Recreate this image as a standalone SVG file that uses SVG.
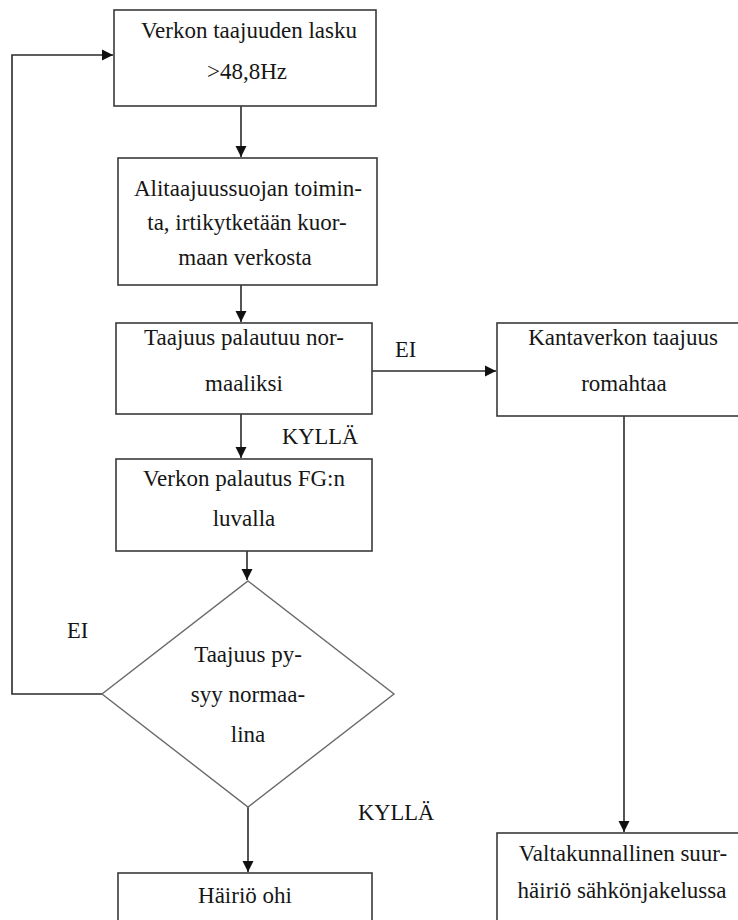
<svg xmlns="http://www.w3.org/2000/svg" width="738" height="920" viewBox="0 0 738 920">
  <style>
    .box { fill: #ffffff; stroke: #3a3a3a; stroke-width: 1.6; }
    .dia { fill: #ffffff; stroke: #6a6a6a; stroke-width: 1.4; }
    .lbl { font-family: "Liberation Serif", "Times New Roman", serif; font-size: 23px; fill: #161616; text-anchor: middle; }
    .edge { fill: none; stroke: #2a2a2a; stroke-width: 1.6; }
    .tag { font-family: "Liberation Serif", "Times New Roman", serif; font-size: 22.5px; fill: #161616; }
  </style>
  <defs>
    <marker id="arrow" markerWidth="12" markerHeight="12" refX="11" refY="6" orient="auto" markerUnits="userSpaceOnUse">
      <path d="M0,0.5 L11,6 L0,11.5 Z" fill="#111111"/>
    </marker>
  </defs>
  <rect width="738" height="920" fill="#ffffff"/>

  <!-- flow connectors and their branch labels -->
  <g id="connectors">
    <line class="edge" x1="241" y1="106" x2="241" y2="157" marker-end="url(#arrow)"/>
    <line class="edge" x1="241" y1="285" x2="241" y2="322" marker-end="url(#arrow)"/>
    <line class="edge" x1="241" y1="414" x2="241" y2="458" marker-end="url(#arrow)"/>
    <line class="edge" x1="247" y1="551" x2="247" y2="580" marker-end="url(#arrow)"/>
    <line class="edge" x1="248" y1="807" x2="248" y2="872" marker-end="url(#arrow)"/>
    <line class="edge" x1="372" y1="371" x2="496" y2="371" marker-end="url(#arrow)"/>
    <line class="edge" x1="624" y1="416" x2="624" y2="832" marker-end="url(#arrow)"/>
    <polyline class="edge" points="102,694 12,694 12,55 113,55" marker-end="url(#arrow)"/>
    <text class="tag" x="395" y="357">EI</text>
    <text class="tag" x="282" y="444">KYLLÄ</text>
    <text class="tag" x="67" y="638">EI</text>
    <text class="tag" x="358" y="820">KYLLÄ</text>
  </g>

  <g id="n-drop">
    <rect class="box" x="114" y="10" width="262" height="96"/>
    <text class="lbl" x="249" y="38">Verkon taajuuden lasku</text>
    <text class="lbl" x="247" y="79">&gt;48,8Hz</text>
  </g>

  <g id="n-protect">
    <rect class="box" x="118" y="158" width="259" height="127"/>
    <text class="lbl" x="248" y="196">Alitaajuussuojan toimin-</text>
    <text class="lbl" x="247" y="230">ta, irtikytketään kuor-</text>
    <text class="lbl" x="245" y="265">maan verkosta</text>
  </g>

  <g id="n-recover">
    <rect class="box" x="116" y="323" width="256" height="91"/>
    <text class="lbl" x="244" y="345">Taajuus palautuu nor-</text>
    <text class="lbl" x="244" y="391">maaliksi</text>
  </g>

  <g id="n-collapse">
    <rect class="box" x="497" y="323" width="256" height="93"/>
    <text class="lbl" x="623" y="345">Kantaverkon taajuus</text>
    <text class="lbl" x="624" y="391">romahtaa</text>
  </g>

  <g id="n-restore">
    <rect class="box" x="116" y="459" width="256" height="92"/>
    <text class="lbl" x="244" y="486">Verkon palautus FG:n</text>
    <text class="lbl" x="244" y="526">luvalla</text>
  </g>

  <g id="n-decision">
    <polygon class="dia" points="248,581 394,694 248,807 102,694"/>
    <text class="lbl" x="248" y="662">Taajuus py-</text>
    <text class="lbl" x="248" y="702">syy normaa-</text>
    <text class="lbl" x="248" y="742">lina</text>
  </g>

  <g id="n-over">
    <rect class="box" x="118" y="873" width="254" height="60"/>
    <text class="lbl" x="245" y="903">Häiriö ohi</text>
  </g>

  <g id="n-blackout">
    <rect class="box" x="497" y="833" width="256" height="100"/>
    <text class="lbl" x="623" y="861">Valtakunnallinen suur-</text>
    <text class="lbl" x="622" y="898">häiriö sähkönjakelussa</text>
  </g>
</svg>
